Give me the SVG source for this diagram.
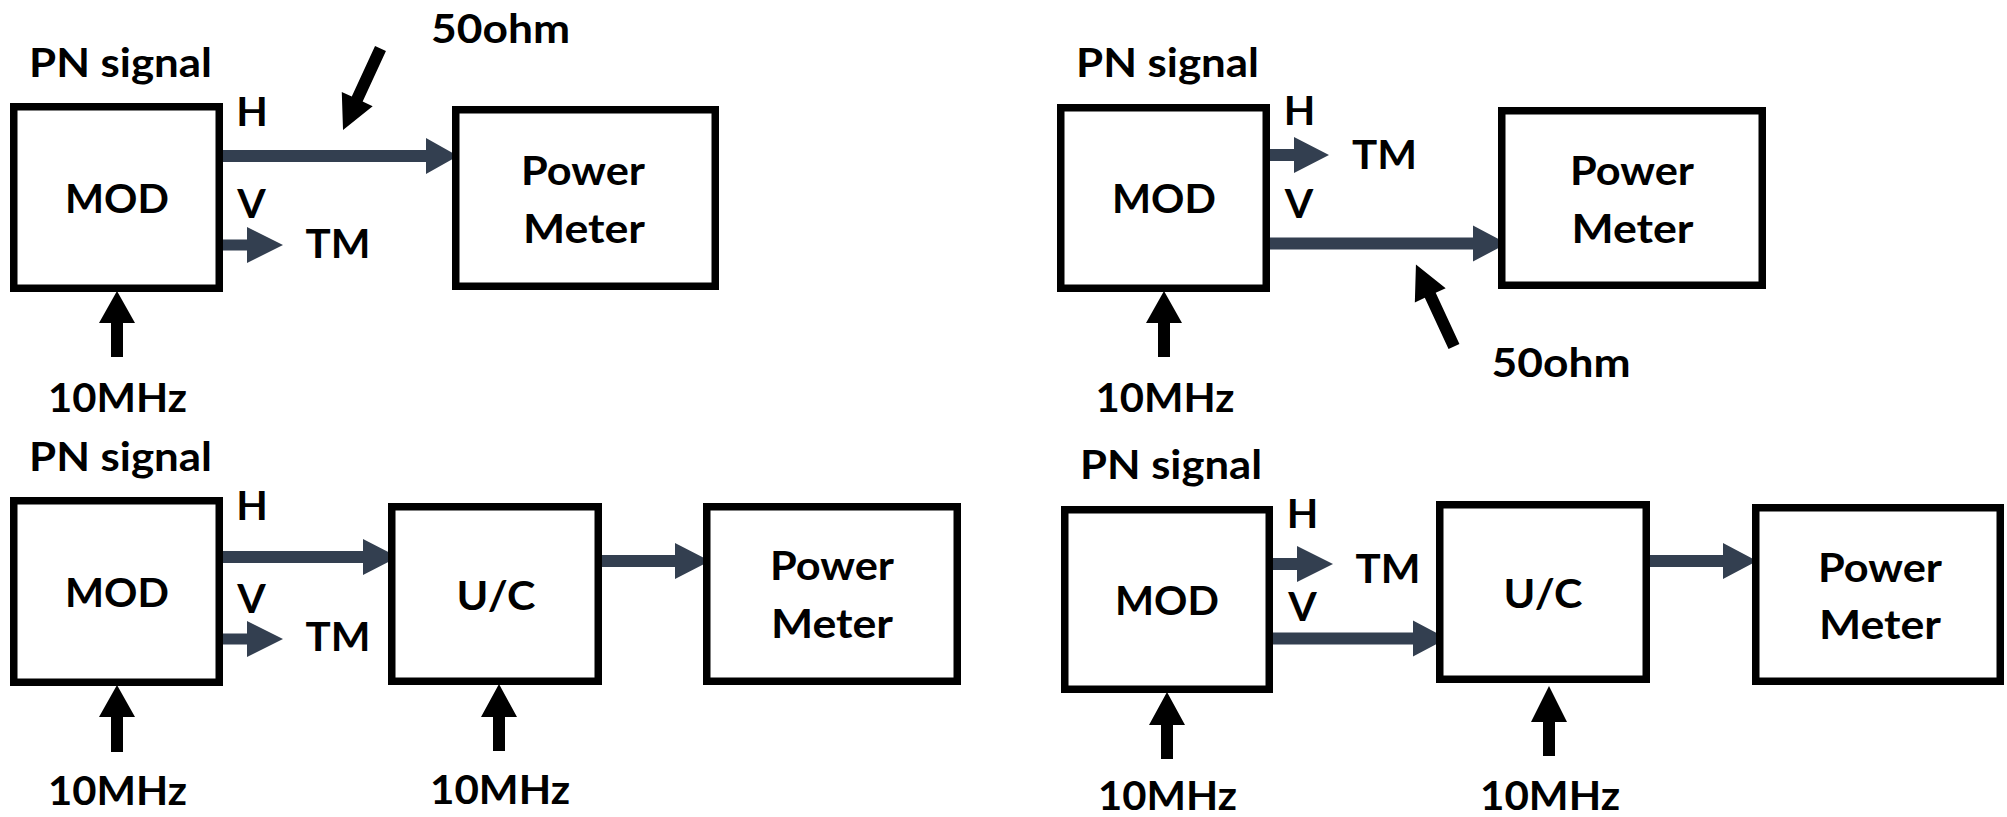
<svg xmlns="http://www.w3.org/2000/svg" width="2007" height="817" viewBox="0 0 2007 817">
<style>
  .box{fill:#fff;stroke:#000;stroke-width:7.5}
  .t{font-family:Lato,"Liberation Sans",sans-serif;font-weight:700;font-size:41px;fill:#000;text-anchor:middle}
  .sig{fill:#333f50}
  .blk{fill:#000}
</style>
<rect width="2007" height="817" fill="#fff"/>

<g id="connectors">
  <!-- panel 1 -->
  <path class="sig" d="M219,150 H426 V138 L458,156 L426,174 V162 H219 Z"/>
  <path class="sig" d="M219,239.5 H247 V227 L283,245 L247,263 V250.5 H219 Z"/>
  <path class="blk" d="M111,357 V323 H99 L117,291 L135,323 H123 V357 Z"/>
  <path class="blk" transform="translate(380.5,48.5) rotate(114.7)" d="M0,-6 H55.7 V-17 L89.7,0 L55.7,17 V6 H0 Z"/>
  <!-- panel 2 -->
  <path class="sig" d="M1266,149 H1294 V137 L1329,155 L1294,173 V161 H1266 Z"/>
  <path class="sig" d="M1266,237.5 H1473 V225.5 L1507,243.5 L1473,261.5 V249.5 H1266 Z"/>
  <path class="blk" d="M1158,357 V323 H1146 L1164,291 L1182,323 H1170 V357 Z"/>
  <path class="blk" transform="translate(1454,346.5) rotate(-114.9)" d="M0,-6 H56.4 V-17 L90.4,0 L56.4,17 V6 H0 Z"/>
  <!-- panel 3 -->
  <path class="sig" d="M219,551 H363 V539 L398,557 L363,575 V563 H219 Z"/>
  <path class="sig" d="M219,633.5 H247 V621 L283,639 L247,657 V644.5 H219 Z"/>
  <path class="sig" d="M598,555 H675 V543 L710,561 L675,579 V567 H598 Z"/>
  <path class="blk" d="M111,752 V717 H99 L117,685 L135,717 H123 V752 Z"/>
  <path class="blk" d="M493,751 V717 H481 L499,684 L517,717 H505 V751 Z"/>
  <!-- panel 4 -->
  <path class="sig" d="M1269,558 H1297 V546 L1333,564 L1297,582 V570 H1269 Z"/>
  <path class="sig" d="M1269,632.5 H1413 V620.5 L1447,638.5 L1413,656.5 V644.5 H1269 Z"/>
  <path class="sig" d="M1646,555 H1723 V543 L1757,561 L1723,579 V567 H1646 Z"/>
  <path class="blk" d="M1161,759 V725 H1149 L1167,692 L1185,725 H1173 V759 Z"/>
  <path class="blk" d="M1543,756 V722 H1531 L1549,686 L1567,722 H1555 V756 Z"/>
</g>

<!-- Panel 1 -->
<g id="p1-mod">
  <rect class="box" x="13.75" y="106.75" width="205.5" height="181.5"/>
  <text class="t" x="117" y="213" textLength="104" lengthAdjust="spacingAndGlyphs">MOD</text>
</g>
<g id="p1-pm">
  <rect class="box" x="455.75" y="109.75" width="259.5" height="176.5"/>
  <text class="t" x="583" y="185" textLength="124" lengthAdjust="spacingAndGlyphs">Power</text>
  <text class="t" x="584" y="243" textLength="122" lengthAdjust="spacingAndGlyphs">Meter</text>
</g>
<g id="p1-labels">
  <text class="t" x="120.5" y="77" textLength="183" lengthAdjust="spacingAndGlyphs">PN signal</text>
  <text class="t" x="500.5" y="43" textLength="139" lengthAdjust="spacingAndGlyphs">50ohm</text>
  <text class="t" x="252" y="126">H</text>
  <text class="t" x="251.5" y="218">V</text>
  <text class="t" x="338" y="258" textLength="65" lengthAdjust="spacingAndGlyphs">TM</text>
  <text class="t" x="117.5" y="412" textLength="139" lengthAdjust="spacingAndGlyphs">10MHz</text>
</g>

<!-- Panel 2 -->
<g id="p2-mod">
  <rect class="box" x="1060.75" y="107.75" width="205.5" height="180.5"/>
  <text class="t" x="1164" y="213" textLength="104" lengthAdjust="spacingAndGlyphs">MOD</text>
</g>
<g id="p2-pm">
  <rect class="box" x="1501.75" y="110.75" width="260.5" height="174.5"/>
  <text class="t" x="1632" y="185" textLength="124" lengthAdjust="spacingAndGlyphs">Power</text>
  <text class="t" x="1632.5" y="243" textLength="122" lengthAdjust="spacingAndGlyphs">Meter</text>
</g>
<g id="p2-labels">
  <text class="t" x="1167.5" y="77" textLength="183" lengthAdjust="spacingAndGlyphs">PN signal</text>
  <text class="t" x="1299.5" y="125">H</text>
  <text class="t" x="1384.5" y="169" textLength="65" lengthAdjust="spacingAndGlyphs">TM</text>
  <text class="t" x="1299" y="218">V</text>
  <text class="t" x="1165" y="412" textLength="139" lengthAdjust="spacingAndGlyphs">10MHz</text>
  <text class="t" x="1561" y="377" textLength="139" lengthAdjust="spacingAndGlyphs">50ohm</text>
</g>

<!-- Panel 3 -->
<g id="p3-mod">
  <rect class="box" x="13.75" y="500.75" width="205.5" height="181.5"/>
  <text class="t" x="117" y="607" textLength="104" lengthAdjust="spacingAndGlyphs">MOD</text>
</g>
<g id="p3-uc">
  <rect class="box" x="391.75" y="506.75" width="206.5" height="174.5"/>
  <text class="t" x="496" y="610" textLength="79" lengthAdjust="spacingAndGlyphs">U/C</text>
</g>
<g id="p3-pm">
  <rect class="box" x="706.75" y="506.75" width="250.5" height="174.5"/>
  <text class="t" x="832" y="580" textLength="124" lengthAdjust="spacingAndGlyphs">Power</text>
  <text class="t" x="832" y="638" textLength="122" lengthAdjust="spacingAndGlyphs">Meter</text>
</g>
<g id="p3-labels">
  <text class="t" x="120.5" y="471" textLength="183" lengthAdjust="spacingAndGlyphs">PN signal</text>
  <text class="t" x="252" y="520">H</text>
  <text class="t" x="251.5" y="613">V</text>
  <text class="t" x="338" y="651" textLength="65" lengthAdjust="spacingAndGlyphs">TM</text>
  <text class="t" x="117.5" y="805" textLength="139" lengthAdjust="spacingAndGlyphs">10MHz</text>
  <text class="t" x="500" y="804" textLength="140" lengthAdjust="spacingAndGlyphs">10MHz</text>
</g>

<!-- Panel 4 -->
<g id="p4-mod">
  <rect class="box" x="1064.75" y="509.75" width="204.5" height="179.5"/>
  <text class="t" x="1167" y="615" textLength="104" lengthAdjust="spacingAndGlyphs">MOD</text>
</g>
<g id="p4-uc">
  <rect class="box" x="1439.75" y="504.75" width="206.5" height="174.5"/>
  <text class="t" x="1543" y="608" textLength="79" lengthAdjust="spacingAndGlyphs">U/C</text>
</g>
<g id="p4-pm">
  <rect class="box" x="1755.75" y="507.75" width="244.5" height="173.5"/>
  <text class="t" x="1880" y="582" textLength="124" lengthAdjust="spacingAndGlyphs">Power</text>
  <text class="t" x="1880" y="639" textLength="122" lengthAdjust="spacingAndGlyphs">Meter</text>
</g>
<g id="p4-labels">
  <text class="t" x="1171" y="479" textLength="182" lengthAdjust="spacingAndGlyphs">PN signal</text>
  <text class="t" x="1302.5" y="528">H</text>
  <text class="t" x="1388" y="583" textLength="65" lengthAdjust="spacingAndGlyphs">TM</text>
  <text class="t" x="1302.5" y="621">V</text>
  <text class="t" x="1167.5" y="810" textLength="139" lengthAdjust="spacingAndGlyphs">10MHz</text>
  <text class="t" x="1550" y="810" textLength="140" lengthAdjust="spacingAndGlyphs">10MHz</text>
</g>
</svg>
